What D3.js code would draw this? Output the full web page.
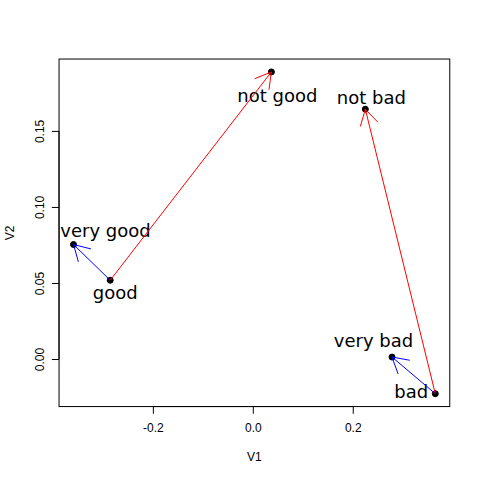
<html>
<head>
<meta charset="utf-8">
<script src="https://d3js.org/d3.v7.min.js"></script>
<style>
  body { margin: 0; background: #fff; }
  .tick text, .axis-title { font-family: "Liberation Sans", Arial, sans-serif; font-size: 12px; fill: #000; }
  .lbl { font-family: "DejaVu Sans", sans-serif; font-size: 18px; fill: #000; }
</style>
</head>
<body>
<div id="chart"></div>
<script>
// data
var words = ["very good", "good", "not good", "not bad", "very bad", "bad"];
var v1 = [-0.3588, -0.2854, 0.0372, 0.2252, 0.2786, 0.3652];
var v2 = [0.0753, 0.0518, 0.1888, 0.1643, 0.0013, -0.0228];

// arrows: index of start word -> index of end word
var arrowFrom = [1, 1, 5, 5];
var arrowTo = [0, 2, 4, 3];
var arrowColour = ["blue", "red", "blue", "red"];

var xTicks = [-0.2, 0.0, 0.2];
var yTicks = [0.00, 0.05, 0.10, 0.15];

// where each label sits relative to its point (pixels, baseline)
var labelDx = [32, 5, 6, 6, -18.5, -24];
var labelDy = [-7.5, 18.5, 30, -5.5, -10, 4.5];

var W = 480, H = 480;
var mLeft = 59.04, mRight = 449.76, mTop = 59.04, mBottom = 406.56;

// R style 4% axis extension
function rRange(v) {
  var lo = d3.min(v), hi = d3.max(v), d = (hi - lo) * 0.04;
  return [lo - d, hi + d];
}
function rFmt(f) {
  var g = d3.format(f);
  return function(d) { return g(d).replace("\u2212", "-"); };
}

var x = d3.scaleLinear().domain(rRange(v1)).range([mLeft, mRight]);
var y = d3.scaleLinear().domain(rRange(v2)).range([mBottom, mTop]);

var svg = d3.select("#chart").append("svg").attr("width", W).attr("height", H);

// box
svg.append("rect").attr("x", mLeft).attr("y", mTop)
  .attr("width", mRight - mLeft).attr("height", mBottom - mTop)
  .attr("fill", "none").attr("stroke", "#000").attr("stroke-width", 1);

// x axis
var xg = svg.append("g").attr("transform", "translate(0," + mBottom + ")")
  .call(d3.axisBottom(x).tickValues(xTicks).tickSize(7.2).tickSizeOuter(0)
    .tickFormat(rFmt(".1f")));
xg.select(".domain").remove();
xg.append("line").attr("x1", x(xTicks[0])).attr("x2", x(xTicks[xTicks.length - 1]))
  .attr("stroke", "#000");
xg.selectAll(".tick line").attr("stroke", "#000");
xg.selectAll(".tick text").attr("y", 25).attr("dy", 0).attr("font-size", 12)
  .attr("font-family", "Liberation Sans, Arial, sans-serif");

// y axis
var yg = svg.append("g").attr("transform", "translate(" + mLeft + ",0)")
  .call(d3.axisLeft(y).tickValues(yTicks).tickSize(7.2).tickSizeOuter(0)
    .tickFormat(rFmt(".2f")));
yg.select(".domain").remove();
yg.append("line").attr("y1", y(yTicks[0])).attr("y2", y(yTicks[yTicks.length - 1]))
  .attr("stroke", "#000");
yg.selectAll(".tick line").attr("stroke", "#000");
yg.selectAll(".tick text").attr("x", null).attr("dy", 0)
  .attr("text-anchor", "middle")
  .attr("transform", "translate(-15.5,0) rotate(-90)")
  .attr("font-size", 12).attr("font-family", "Liberation Sans, Arial, sans-serif");

// axis titles
svg.append("text").attr("class", "axis-title").attr("x", (mLeft + mRight) / 2).attr("y", 460.5)
  .attr("text-anchor", "middle").text("V1");
svg.append("text").attr("class", "axis-title")
  .attr("transform", "translate(14," + ((mTop + mBottom) / 2) + ") rotate(-90)")
  .attr("text-anchor", "middle").text("V2");

var idx = d3.range(words.length);

// points
svg.selectAll(".pt").data(idx).enter().append("circle")
  .attr("cx", function(i) { return x(v1[i]); })
  .attr("cy", function(i) { return y(v2[i]); })
  .attr("r", 3).attr("fill", "#000").attr("stroke", "#000").attr("stroke-width", 1);

// labels
svg.selectAll(".lbl").data(idx).enter().append("text").attr("class", "lbl")
  .attr("x", function(i) { return x(v1[i]) + labelDx[i]; })
  .attr("y", function(i) { return y(v2[i]) + labelDy[i]; })
  .attr("text-anchor", "middle")
  .text(function(i) { return words[i]; });

// arrows, R arrows() style: 0.25in heads at 30 degrees
var headLen = 18, headAng = Math.PI / 6;
d3.range(arrowFrom.length).forEach(function(k) {
  var x0 = x(v1[arrowFrom[k]]), y0 = y(v2[arrowFrom[k]]);
  var x1 = x(v1[arrowTo[k]]), y1 = y(v2[arrowTo[k]]);
  var a = Math.atan2(y0 - y1, x0 - x1);
  var p = d3.path();
  p.moveTo(x0, y0); p.lineTo(x1, y1);
  p.moveTo(x1 + headLen * Math.cos(a + headAng), y1 + headLen * Math.sin(a + headAng));
  p.lineTo(x1, y1);
  p.lineTo(x1 + headLen * Math.cos(a - headAng), y1 + headLen * Math.sin(a - headAng));
  svg.append("path").attr("d", p.toString()).attr("fill", "none")
    .attr("stroke", arrowColour[k]).attr("stroke-width", 1);
});
</script>
</body>
</html>
